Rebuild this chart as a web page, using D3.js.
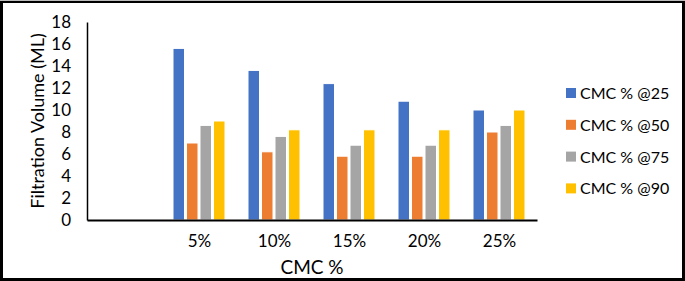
<!DOCTYPE html>
<html>
<head>
<meta charset="utf-8">
<script src="https://cdn.jsdelivr.net/npm/d3@7"></script>
<style>
	body { margin: 0; background: #fff; }
	svg text { font-family: Lato, "Open Sans", sans-serif; fill: #000; }
</style>
</head>
<body>
<div id="chart"></div>
<script>

// categories along x (first slot is empty in the original chart)
let categories = ["", "5%", "10%", "15%", "20%", "25%"];
let seriesNames = ["CMC % @25", "CMC % @50", "CMC % @75", "CMC % @90"];
let seriesColors = ["#4472C4", "#ED7D31", "#A5A5A5", "#FFC000"];

// filtration volume per series, one value per category (null = no bar)
let cmc25 = [null, 15.6, 13.6, 12.4, 10.8, 10.0];
let cmc50 = [null, 7.0, 6.2, 5.8, 5.8, 8.0];
let cmc75 = [null, 8.6, 7.6, 6.8, 6.8, 8.6];
let cmc90 = [null, 9.0, 8.2, 8.2, 8.2, 10.0];

let yTicks = [0, 2, 4, 6, 8, 10, 12, 14, 16, 18];

let W = 685, H = 281;
let margin = {top: 22, right: 148, bottom: 61, left: 87};
let width = W - margin.left - margin.right;
let height = H - margin.top - margin.bottom;

let svg = d3.select("#chart").append("svg")
	.attr("width", W)
	.attr("height", H);

// outer frame
svg.append("rect")
	.attr("x", 1.5).attr("y", 1.5)
	.attr("width", W - 3).attr("height", H - 3)
	.attr("fill", "none")
	.attr("stroke", "#000")
	.attr("stroke-width", 3);
svg.append("line")
	.attr("x1", 0).attr("x2", W)
	.attr("y1", 0.5).attr("y2", 0.5)
	.attr("stroke", "#bbb");

let g = svg.append("g")
	.attr("transform", "translate(" + margin.left + "," + margin.top + ")");

let x = d3.scaleBand()
	.domain(categories.map((c, i) => i))
	.range([0, width]);

let x1 = d3.scaleBand()
	.domain(seriesNames)
	.range([0, 54])
	.paddingInner(0.0);

let y = d3.scaleLinear()
	.domain([0, 18])
	.range([height, 0]);

let data = [cmc25, cmc50, cmc75, cmc90];

// bars
categories.forEach(function(c, i) {
	let grp = g.append("g")
		.attr("transform", "translate(" + (x(i) + x.bandwidth() / 2 - 27) + ",0)");
	data.forEach(function(s, j) {
		if (s[i] == null) return;
		grp.append("rect")
			.attr("x", x1(seriesNames[j]) + 0.5)
			.attr("y", y(s[i]))
			.attr("width", x1.bandwidth() - 2)
			.attr("height", height - y(s[i]))
			.attr("fill", seriesColors[j])
			.attr("stroke", "#fff")
			.attr("stroke-width", 1);
	});
});

// y axis
let yAxis = d3.axisLeft(y).tickValues(yTicks).tickSize(0).tickPadding(16);
let yg = g.append("g").call(yAxis);
yg.select(".domain").attr("stroke", "#000").attr("stroke-width", 1.5);
yg.selectAll("text").style("font-size", "17px");

// x axis
let xAxis = d3.axisBottom(x).tickFormat(i => categories[i]).tickSize(0).tickPadding(15);
let xg = g.append("g")
	.attr("transform", "translate(0," + height + ")")
	.call(xAxis);
xg.select(".domain").attr("stroke", "#000").attr("stroke-width", 2);
xg.selectAll("text").style("font-size", "17px");

// axis titles
svg.append("text")
	.attr("transform", "translate(44," + (margin.top + height / 2) + ") rotate(-90)")
	.attr("text-anchor", "middle")
	.style("font-size", "18px")
	.text("Filtration Volume (ML)");

svg.append("text")
	.attr("x", margin.left + width / 2)
	.attr("y", 274)
	.attr("text-anchor", "middle")
	.style("font-size", "19px")
	.text("CMC %");

// legend
let legend = svg.append("g").attr("transform", "translate(566,88)");
seriesNames.forEach(function(name, j) {
	let row = legend.append("g").attr("transform", "translate(0," + (j * 31.8) + ")");
	row.append("rect")
		.attr("width", 10).attr("height", 10)
		.attr("fill", seriesColors[j]);
	row.append("text")
		.attr("x", 14)
		.attr("y", 11)
		.style("font-size", "16px")
		.text(name);
});

</script>
</body>
</html>
